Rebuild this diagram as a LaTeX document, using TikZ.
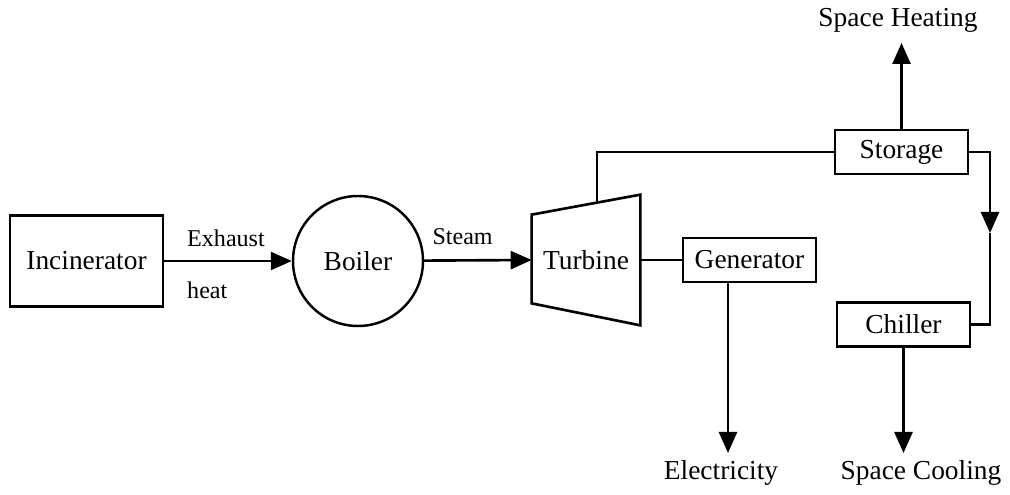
\documentclass[tikz,border=0pt]{standalone}
\usepackage{fontspec}
\setmainfont{Liberation Serif}
\usetikzlibrary{positioning, arrows.meta, calc}

\begin{document}
\begin{tikzpicture}[
          blk/.style={rectangle, draw, line width=1.4pt, minimum width=2.66cm,
                      minimum height=0.88cm, inner sep=0pt,
                      font=\fontsize{15.6}{18}\selectfont},
          outl/.style={inner sep=0pt, font=\fontsize{15.6}{18}\selectfont},
          lbl/.style={inner sep=0pt, font=\fontsize{13.7}{16}\selectfont},
          conn/.style={line width=1.5pt},
          arr/.style={-{Triangle[length=0.42cm, width=0.36cm]}, line width=1.5pt}
        ]
        \useasboundingbox (0,0) rectangle (20.2,9.9);

        \node[blk, minimum width=3.06cm, minimum height=1.82cm] (inc) at (1.73,4.68)
              {Incinerator};
        \node[blk, circle, minimum size=2.6cm] (boiler) at (7.16,4.68)
              {Boiler};
        \node[outl, minimum width=2.16cm, minimum height=2.6cm] (turb) at (11.72,4.7)
              {Turbine};
        \node[blk] (gen)     at (14.99,4.7)  {Generator};
        \node[blk] (storage) at (18.03,6.86) {Storage};
        \node[blk] (chiller) at (18.07,3.41) {Chiller};

        \node[outl, anchor=base] (heat) at (17.96,9.36) {Space Heating};
        \node[outl, anchor=base] (elec) at (14.42,0.31) {Electricity};
        \node[outl, anchor=base] (cool) at (18.42,0.31) {Space Cooling};

        % turbine outline
        \draw[conn, line join=miter] ($(turb.north west)+(0,-0.4)$) -- (turb.north east)
              -- (turb.south east) -- ($(turb.south west)+(0,0.44)$) -- cycle;

        % free ends
        \coordinate (tout)    at (11.94,5.84);
        \coordinate (heattip) at (18.03,9.04);
        \coordinate (elecsrc) at (14.56,4.25);
        \coordinate (electip) at (14.56,0.84);
        \coordinate (cooltip) at (18.07,0.84);
        \coordinate (loop)    at (19.8,5.24);

        \draw[arr] (inc) -- (boiler)
              node[lbl, pos=0.17, anchor=base west, yshift=0.28cm]{Exhaust}
              node[lbl, pos=0.17, anchor=north west, yshift=-0.38cm]{heat};
        \draw[arr] (boiler) -- (turb.west)
              node[lbl, pos=0.065, anchor=base west, yshift=0.32cm]{Steam};
        \draw[conn] (turb.east) -- (gen.west);
        \draw[conn] (tout) |- (storage.west);

        \draw[arr] (storage.north) -- (heattip);
        \draw[arr] (storage.east) -| (loop);
        \draw[conn] (loop) |- (chiller.east);
        \draw[arr] (elecsrc) -- (electip);
        \draw[arr] (chiller.south) -- (cooltip);
      \end{tikzpicture}
\end{document}
